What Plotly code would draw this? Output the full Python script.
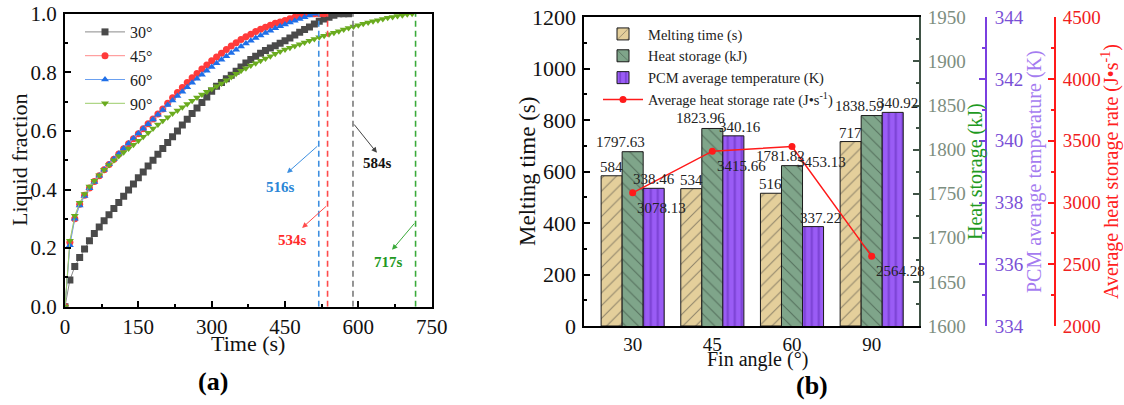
import plotly.graph_objects as go

# ---------------- Panel (a) data ----------------
t30 = list(range(0, 590, 10))
lf30 = [0, 0.091, 0.137, 0.168, 0.197, 0.225, 0.25, 0.272, 0.293, 0.314,
        0.335, 0.356, 0.377, 0.398, 0.419, 0.44, 0.46, 0.48, 0.50, 0.52,
        0.54, 0.56, 0.58, 0.60, 0.62, 0.64, 0.659, 0.678, 0.697, 0.716,
        0.735, 0.752, 0.765, 0.778, 0.79, 0.804, 0.818, 0.832, 0.844, 0.855,
        0.865, 0.874, 0.883, 0.891, 0.899, 0.908, 0.917, 0.927, 0.937, 0.946,
        0.955, 0.965, 0.974, 0.982, 0.988, 0.995, 1.0, 1.0, 1.0]
t45 = list(range(0, 540, 10))
lf45 = [0, 0.22, 0.30, 0.35, 0.38, 0.405, 0.427, 0.447, 0.467, 0.485,
        0.503, 0.521, 0.539, 0.556, 0.573, 0.59, 0.607, 0.624, 0.641, 0.658,
        0.675, 0.694, 0.713, 0.731, 0.748, 0.765, 0.781, 0.796, 0.811, 0.825,
        0.839, 0.852, 0.865, 0.878, 0.89, 0.901, 0.912, 0.921, 0.93, 0.939,
        0.947, 0.954, 0.961, 0.967, 0.972, 0.977, 0.983, 0.988, 0.993, 0.997,
        1.0, 1.0, 1.0, 1.0]
t60 = list(range(0, 520, 10))
lf60 = [0, 0.21, 0.30, 0.345, 0.378, 0.404, 0.426, 0.447, 0.467, 0.486,
        0.504, 0.522, 0.54, 0.557, 0.574, 0.591, 0.607, 0.623, 0.639, 0.655,
        0.671, 0.688, 0.704, 0.719, 0.734, 0.749, 0.764, 0.778, 0.792, 0.805,
        0.818, 0.831, 0.843, 0.855, 0.866, 0.877, 0.888, 0.898, 0.908, 0.917,
        0.926, 0.934, 0.942, 0.95, 0.957, 0.963, 0.97, 0.976, 0.982, 0.988,
        0.994, 1.0]
t90 = list(range(0, 720, 10))
lf90 = [0, 0.225, 0.31, 0.355, 0.385, 0.41, 0.43, 0.449, 0.467, 0.484,
        0.50, 0.514, 0.527, 0.54, 0.553, 0.566, 0.58, 0.594, 0.608, 0.622,
        0.635, 0.647, 0.659, 0.67, 0.681, 0.692, 0.703, 0.714, 0.724, 0.734,
        0.743, 0.752, 0.762, 0.773, 0.784, 0.795, 0.805, 0.814, 0.823, 0.831,
        0.839, 0.847, 0.855, 0.863, 0.871, 0.878, 0.884, 0.89, 0.896, 0.902,
        0.908, 0.914, 0.92, 0.925, 0.93, 0.935, 0.94, 0.946, 0.951, 0.956,
        0.961, 0.966, 0.97, 0.974, 0.978, 0.982, 0.986, 0.989, 0.992, 0.995,
        0.998, 1.0]
series_names = ["30°", "45°", "60°", "90°"]
melt_line_x = [519, 537, 589, 717]
melt_line_labels = ["516s", "534s", "584s", "717s"]

# ---------------- Panel (b) data ----------------
angles = ["30", "45", "60", "90"]
melting_time = [584, 534, 516, 717]
heat_storage = [1797.63, 1823.96, 1781.82, 1838.59]
pcm_temp = [338.46, 340.16, 337.22, 340.92]
heat_rate = [3078.13, 3415.66, 3453.13, 2564.28]

FONT = "Liberation Serif, Times New Roman, serif"
W, H = 1124, 405

def px(x):
    return x / W

def py(y):
    return 1 - y / H

fig = go.Figure()

# ---------------- Panel (a) traces ----------------
cols = ["#4a4a4a", "#ff3b3b", "#1f6fe8", "#6aab1f"]
lcols = ["#8a8a8a", "#ff8a8a", "#6aa0f0", "#9ccc6a"]
syms = ["square", "circle", "triangle-up", "triangle-down"]
for t, v, n, c, lc, s in zip([t30, t45, t60, t90], [lf30, lf45, lf60, lf90],
                            series_names, cols, lcols, syms):
    fig.add_trace(go.Scatter(
        x=t, y=v, name=n, mode="lines+markers", xaxis="x", yaxis="y",
        line=dict(color=lc, width=1),
        marker=dict(symbol=s, size=7, color=c, line=dict(width=0)),
        legend="legend"))

dash_cols = ["#3d8fe0", "#ff4a4a", "#7a7a7a", "#3aaa3a"]
for xv, c in zip(melt_line_x, dash_cols):
    fig.add_shape(type="line", xref="x", yref="y", x0=xv, x1=xv, y0=0, y1=1,
                  line=dict(color=c, width=1.6, dash="6px,4px"))

# arrows + labels (tail at dashed line, head near label)
arrow_specs = [
    # color, tail(t,v), head(t,v), text(t,v)
    ("#2a86d6", (519, 0.552), (454, 0.456), (440, 0.408)),
    ("#ff2a2a", (537, 0.347), (485, 0.269), (466, 0.228)),
    ("#111111", (589, 0.627), (638, 0.525), (640, 0.49)),
    ("#229922", (717, 0.289), (669, 0.194), (661, 0.152)),
]
acol_line = ["#3d8fe0", "#ff4a4a", "#444444", "#3aaa3a"]
for lab, (c, tail, head, tx), lc in zip(melt_line_labels, arrow_specs, acol_line):
    fig.add_annotation(xref="x", yref="y", axref="x", ayref="y",
                       x=head[0], y=head[1], ax=tail[0], ay=tail[1],
                       text="", showarrow=True, arrowhead=2, arrowsize=1.1,
                       arrowwidth=1, arrowcolor=lc)
    fig.add_annotation(xref="x", yref="y", x=tx[0], y=tx[1], text="<b>%s</b>" % lab,
                       showarrow=False, xanchor="center", yanchor="middle",
                       font=dict(family=FONT, size=15, color=c))

# ---------------- Panel (b) traces ----------------
BW = 0.264
fig.add_trace(go.Bar(
    x=angles, y=melting_time, name="Melting time (s)", xaxis="x2", yaxis="y2",
    width=BW, offset=-1.5 * BW,
    marker=dict(color="#e4cf9b", line=dict(color="#1a1a1a", width=1),
                pattern=dict(shape="/", fgcolor="#3a3a3a", size=9, solidity=0.12)),
    legend="legend2"))
fig.add_trace(go.Bar(
    x=angles, y=heat_storage, name="Heat storage (kJ)", xaxis="x2", yaxis="y3",
    width=BW, offset=-0.5 * BW,
    marker=dict(color="#7fa58a", line=dict(color="#1a1a1a", width=1),
                pattern=dict(shape="\\", fgcolor="#2c3a30", size=9, solidity=0.12)),
    legend="legend2"))
fig.add_trace(go.Bar(
    x=angles, y=pcm_temp, name="PCM average temperature (K)", xaxis="x2", yaxis="y4",
    width=BW, offset=0.5 * BW,
    marker=dict(color="#9a5cf5", line=dict(color="#1a1a1a", width=1),
                pattern=dict(shape="|", fgcolor="#5a25b0", size=7, solidity=0.3)),
    legend="legend2"))
fig.add_trace(go.Scatter(
    x=angles, y=heat_rate, name="Average heat storage rate (J•s<sup>-1</sup>)",
    xaxis="x2", yaxis="y5", mode="lines+markers",
    line=dict(color="#ff1a1a", width=1.5),
    marker=dict(symbol="circle", size=7, color="#ff1a1a"),
    legend="legend2"))

# value labels
lab_font = dict(family=FONT, size=15, color="#222222")
pcm_dx = [0, 7, 7, 5]
for i in range(len(angles)):
    fig.add_annotation(xref="x2", yref="y2", x=i - BW, y=melting_time[i],
                       text=str(melting_time[i]), showarrow=False,
                       xanchor="center", yanchor="bottom", yshift=-1, font=lab_font)
    fig.add_annotation(xref="x2", yref="y3", x=i, y=heat_storage[i],
                       text="%.2f" % heat_storage[i], showarrow=False,
                       xanchor="center", yanchor="bottom", xshift=-12, yshift=0,
                       font=lab_font)
    fig.add_annotation(xref="x2", yref="y4", x=i + BW, y=pcm_temp[i],
                       text="%.2f" % pcm_temp[i], showarrow=False,
                       xanchor="center", yanchor="bottom", xshift=pcm_dx[i], yshift=-1,
                       font=lab_font)
    fig.add_annotation(xref="x2", yref="y5", x=i, y=heat_rate[i],
                       text="%.2f" % heat_rate[i], showarrow=False,
                       xanchor="center", yanchor="middle",
                       xshift=29, yshift=-15, font=lab_font)

# axis titles (rotated) and panel labels
def title(text, x, y, size, color, angle=-90):
    fig.add_annotation(xref="paper", yref="paper", x=px(x), y=py(y),
                       text=text, textangle=angle, showarrow=False,
                       xanchor="center", yanchor="middle",
                       font=dict(family=FONT, size=size, color=color))

title("Liquid fraction", 19, 160, 22, "#111111")
title("Time (s)", 248, 343, 22, "#111111", angle=0)
title("<b>(a)</b>", 213, 381, 26, "#000000", angle=0)
title("Melting time (s)", 527, 172, 23, "#111111")
title("Fin angle (°)", 757, 359, 20, "#111111", angle=0)
title("<b>(b)</b>", 812, 385, 26, "#000000", angle=0)
title("Heat storage (kJ)", 975, 172, 20, "#1f9a1f")
title("PCM average temperature (K)", 1034, 172, 20, "#a57cf0")
title("Average heat storage rate (J•s<sup>-1</sup>)", 1110, 172, 20, "#ff2020")

axfont = dict(family=FONT, size=21, color="#111111")
fig.update_layout(
    width=W, height=H, margin=dict(l=0, r=0, t=0, b=0, autoexpand=False),
    paper_bgcolor="white", plot_bgcolor="white",
    font=dict(family=FONT, color="#111111"),
    showlegend=True,
    xaxis=dict(domain=[px(65), px(431.7)], range=[0, 750], dtick=150, anchor="y",
               showline=True, linecolor="black", linewidth=2, mirror=True,
               ticks="inside", ticklen=6, tickwidth=1.5, tickcolor="black",
               minor=dict(ticks="inside", ticklen=3, dtick=75, tickcolor="black"),
               showgrid=False, zeroline=False, tickfont=axfont, ticklabelstandoff=0,
               automargin=False),
    yaxis=dict(domain=[py(306.7), py(13.7)], range=[0, 1.0], dtick=0.2, anchor="x",
               tickformat=".1f",
               showline=True, linecolor="black", linewidth=2, mirror=True,
               ticks="inside", ticklen=6, tickwidth=1.5, tickcolor="black",
               minor=dict(ticks="inside", ticklen=3, dtick=0.1, tickcolor="black"),
               showgrid=False, zeroline=False, tickfont=axfont, ticklabelstandoff=2,
               automargin=False),
    xaxis2=dict(domain=[px(584.3), px(919)], range=[-0.607, 3.594], anchor="y2",
                type="category",
                showline=True, linecolor="black", linewidth=2, mirror=True,
                ticks="", showgrid=False, zeroline=False,
                tickfont=dict(family=FONT, size=19, color="#111111"),
                ticklabelstandoff=0, automargin=False),
    yaxis2=dict(domain=[py(326), py(17.3)], range=[0, 1200], dtick=200, anchor="x2",
                showline=True, linecolor="black", linewidth=2,
                ticks="inside", ticklen=6, tickwidth=1.5, tickcolor="black",
                minor=dict(ticks="inside", ticklen=3, dtick=100, tickcolor="black"),
                showgrid=False, zeroline=False,
                tickfont=dict(family=FONT, size=22, color="#111111"),
                ticklabelstandoff=2, automargin=False),
    yaxis3=dict(overlaying="y2", side="right", anchor="x2", range=[1600, 1950],
                dtick=50, showline=True, linecolor="#3f5245", linewidth=2,
                ticks="inside", ticklen=6, tickwidth=1.5, tickcolor="#3f5245",
                minor=dict(ticks="inside", ticklen=3, dtick=25, tickcolor="#3f5245"),
                showgrid=False, zeroline=False,
                tickfont=dict(family=FONT, size=19, color="#7d8e80"),
                ticklabelstandoff=3, automargin=False),
    yaxis4=dict(overlaying="y2", side="right", anchor="free", position=px(986),
                range=[334, 344], dtick=2, showline=True, linecolor="#7a3fe0",
                linewidth=2, ticks="inside", ticklen=6, tickwidth=1.5,
                tickcolor="#7a3fe0",
                minor=dict(ticks="inside", ticklen=3, dtick=1, tickcolor="#7a3fe0"),
                showgrid=False, zeroline=False,
                tickfont=dict(family=FONT, size=19, color="#7a4fd6"),
                ticklabelstandoff=4, automargin=False),
    yaxis5=dict(overlaying="y2", side="right", anchor="free", position=px(1055),
                range=[2000, 4500], dtick=500, showline=True, linecolor="#ff1a1a",
                linewidth=2, ticks="inside", ticklen=6, tickwidth=1.5,
                tickcolor="#ff1a1a",
                minor=dict(ticks="inside", ticklen=3, dtick=250, tickcolor="#ff1a1a"),
                showgrid=False, zeroline=False,
                tickfont=dict(family=FONT, size=19, color="#f02020"),
                ticklabelstandoff=3, automargin=False),
    legend=dict(x=px(80), y=py(15), xanchor="left", yanchor="top",
                bgcolor="rgba(0,0,0,0)", itemwidth=40,
                font=dict(family=FONT, size=16, color="#222222"),
                tracegroupgap=0),
    legend2=dict(x=px(598), y=py(18), xanchor="left", yanchor="top",
                 bgcolor="rgba(0,0,0,0)", itemwidth=40,
                 font=dict(family=FONT, size=14.5, color="#222222"),
                 tracegroupgap=0),
)

fig.write_html("out.html")
